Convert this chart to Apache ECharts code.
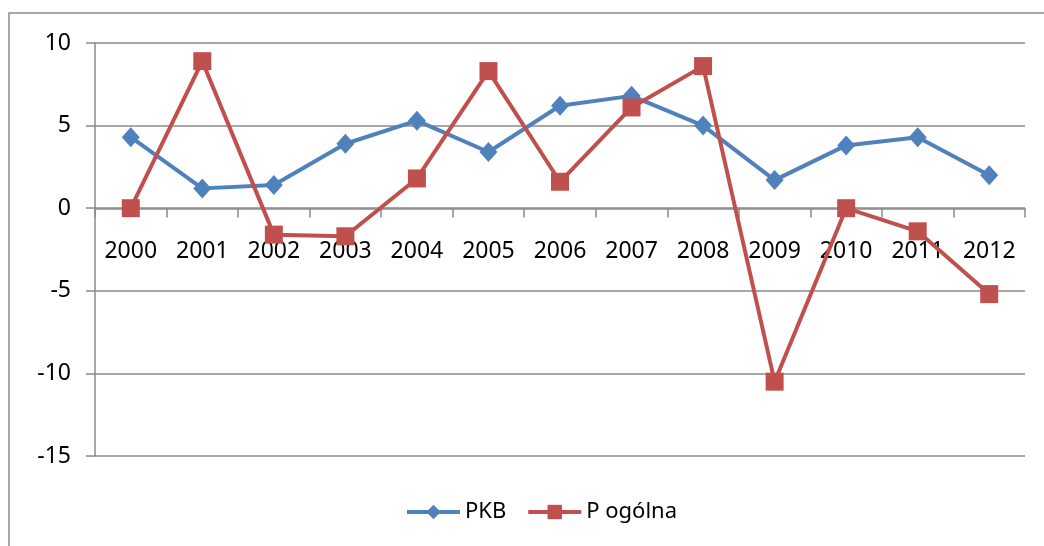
<!DOCTYPE html>
<html>
<head>
<meta charset="utf-8">
<script src="https://cdn.jsdelivr.net/npm/echarts@6/dist/echarts.min.js"></script>
<style>
  html, body { margin: 0; padding: 0; background: #fff; }
  #chart { width: 1044px; height: 546px; }
</style>
</head>
<body>
<div id="chart"></div>
<script>
// ======================
// DATA
// ======================
const years = ["2000", "2001", "2002", "2003", "2004", "2005", "2006",
               "2007", "2008", "2009", "2010", "2011", "2012"];
const pkb = [4.3, 1.2, 1.4, 3.9, 5.3, 3.4, 6.2, 6.8, 5.0, 1.7, 3.8, 4.3, 2.0];
const pOgolna = [0.0, 8.9, -1.6, -1.7, 1.8, 8.3, 1.6, 6.1, 8.6, -10.5, 0.0, -1.4, -5.2];
const seriesNames = ["PKB", "P ogólna"];

// ======================
// STYLE
// ======================
const COLORS = { blue: "#4f81bd", red: "#c0504d", axis: "#8a8a8a" };
const FONT = "'Noto Sans', 'DejaVu Sans', sans-serif";

// grid: 0 sits 247.5px above the bottom edge (-15), x labels follow the zero line
const GRID = { left: 95, right: 19, top: 43, bottom: 90 };
const ZERO_OFFSET = -247.5;

const chart = echarts.init(document.getElementById("chart"));
chart.setOption({
    backgroundColor: "#fff",
    animation: false,
    textStyle: { fontFamily: FONT, color: "#000" },
    graphic: [{
        type: "rect",
        shape: { x: 9, y: 13, width: 1100, height: 600 },
        style: { fill: "none", stroke: COLORS.axis, lineWidth: 1.5 },
        silent: true
    }],
    grid: GRID,
    legend: {
        left: 400,
        top: 496,
        itemWidth: 53,
        itemHeight: 18,
        itemGap: 20,
        lineStyle: { width: 4 },
        textStyle: { fontFamily: FONT, fontSize: 22, color: "#000" },
        data: seriesNames
    },
    xAxis: {
        type: "category",
        data: years,
        boundaryGap: true,
        position: "bottom",
        offset: ZERO_OFFSET,
        axisLine: { onZero: false, lineStyle: { color: COLORS.axis, width: 1.5 } },
        axisTick: { show: true, length: 9, inside: false, lineStyle: { color: COLORS.axis, width: 1.5 } },
        axisLabel: { fontSize: 23, color: "#000", margin: 31, fontFamily: FONT, interval: 0 },
        splitLine: { show: false }
    },
    yAxis: {
        type: "value",
        min: -15,
        max: 10,
        interval: 5,
        axisLine: { show: true, lineStyle: { color: COLORS.axis, width: 1.5 } },
        axisTick: { show: true, length: 9, lineStyle: { color: COLORS.axis, width: 1.5 } },
        axisLabel: { fontSize: 23, color: "#000", margin: 24, fontFamily: FONT },
        splitLine: { show: true, lineStyle: { color: COLORS.axis, width: 1.5 } }
    },
    series: [{
        name: seriesNames[0],
        type: "line",
        data: pkb,
        symbol: "diamond",
        symbolSize: [18, 20],
        showAllSymbol: true,
        lineStyle: { color: COLORS.blue, width: 4 },
        itemStyle: { color: COLORS.blue },
        z: 3
    }, {
        name: seriesNames[1],
        type: "line",
        data: pOgolna,
        symbol: "rect",
        symbolSize: 18,
        showAllSymbol: true,
        lineStyle: { color: COLORS.red, width: 4 },
        itemStyle: { color: COLORS.red },
        z: 4
    }]
});
</script>
</body>
</html>
